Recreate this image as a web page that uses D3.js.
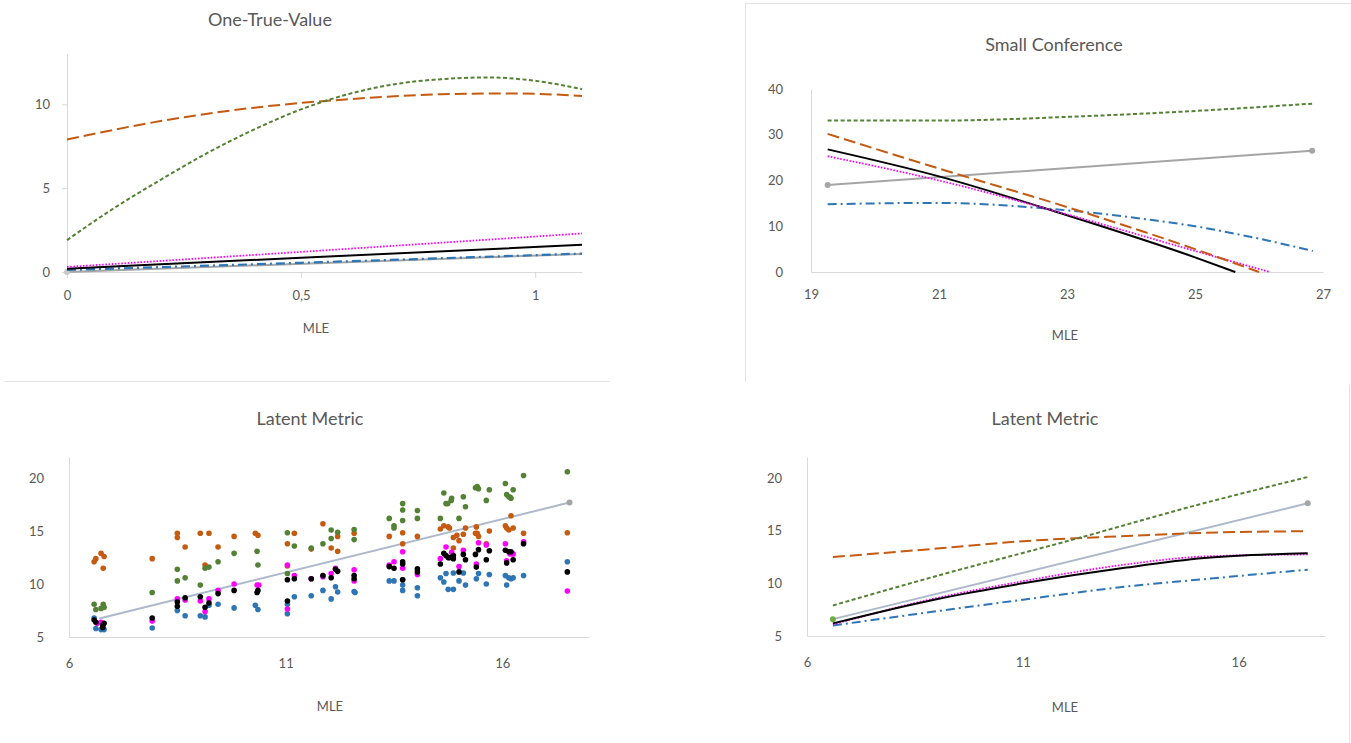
<!DOCTYPE html>
<html>
<head>
<meta charset="utf-8">
<script src="https://cdn.jsdelivr.net/npm/d3@7"></script>
<style>
body { margin: 0; background: #fff; }
svg text { font-family: Lato, "Open Sans", sans-serif; fill: #595959; }
.axis .domain { stroke: #d9d9d9; }
.axis line { stroke: #d9d9d9; }
.axis text { font-size: 13px; fill: #595959; }
</style>
</head>
<body>
<div id="chart"></div>
<script>
// ---- One-True-Value ----
const otvOrange = [[0, 7.9], [0.2, 9.0], [0.4, 9.8], [0.6, 10.3], [0.8, 10.6], [0.95, 10.65], [1.1, 10.5]];
const otvGreen = [[0, 1.9], [0.1, 3.8], [0.2, 5.5], [0.3, 7.1], [0.4, 8.5], [0.5, 9.7], [0.6, 10.6],
    [0.7, 11.2], [0.8, 11.5], [0.9, 11.6], [1.0, 11.4], [1.1, 10.9]];
const otvMagenta = [[0, 0.3], [0.5, 1.2], [1.1, 2.3]];
const otvBlack = [[0, 0.2], [0.5, 0.85], [1.1, 1.62]];
const otvBlue = [[0, 0.12], [0.5, 0.55], [1.1, 1.1]];
const otvGray = [[0, 0], [1.1, 1.08]];

// ---- Small Conference ----
const scGreen = [[19.26, 33.1], [21, 33.1], [23, 33.9], [25, 35.2], [26.83, 36.8]];
const scOrange = [[19.26, 30.2], [21, 22.6], [23, 14.2], [25, 5.0], [26.0, 0]];
const scBlack = [[19.26, 26.8], [21, 20.9], [23, 12.4], [25, 3.2], [25.63, 0]];
const scMagenta = [[19.26, 25.3], [21, 20.0], [23, 12.6], [25, 4.6], [26.17, 0]];
const scBlue = [[19.26, 14.8], [20, 15.0], [21, 15.1], [22, 14.6], [22.73, 13.8], [23.5, 12.8],
    [24.3, 11.4], [25, 10.0], [25.86, 7.7], [26.84, 4.6]];
const scGray = [[19.26, 19], [26.83, 26.5]];

// ---- Latent Metric (scatter) ----
const lmsOrange = [[6.58, 12.1], [6.62, 12.4], [6.74, 12.9], [6.81, 12.6], [6.79, 11.5], [7.92, 12.4],
    [8.5, 14.8], [8.5, 14.4], [8.68, 13.5], [9.03, 14.8], [9.14, 11.8], [9.23, 14.8], [9.44, 13.5],
    [9.81, 14.5], [10.3, 14.8], [10.36, 14.6], [11.04, 13.8], [11.04, 11.7], [11.2, 14.8], [11.59, 13.3],
    [11.86, 15.7], [12.05, 13.4], [12.2, 14.5], [12.2, 13.1], [12.58, 14.8], [13.39, 14.5], [13.7, 14.85],
    [13.7, 13.8], [14.04, 14.5], [14.57, 15.2], [14.65, 15.5], [14.75, 15.4], [14.78, 15.3], [14.87, 14.4],
    [14.87, 13.4], [14.95, 14.6], [15.0, 14.1], [15.1, 14.7], [15.15, 15.3], [15.4, 15.4], [15.38, 14.8],
    [15.42, 14.8], [15.45, 14.5], [15.7, 15.0], [15.63, 13.8], [16.2, 16.45], [16.07, 15.5], [16.1, 15.3],
    [16.15, 15.1], [16.25, 15.3], [16.49, 14.8], [17.5, 14.85]];
const lmsGreen = [[6.58, 8.1], [6.62, 7.6], [6.74, 7.7], [6.79, 8.1], [6.81, 7.8], [7.92, 9.2],
    [8.5, 11.4], [8.5, 10.3], [8.68, 10.6], [9.03, 9.9], [9.14, 11.5], [9.23, 11.6], [9.44, 12.1],
    [9.81, 12.9], [10.34, 13.1], [10.36, 11.8], [11.04, 14.85], [11.04, 11.0], [11.2, 13.6], [11.59, 13.4],
    [11.86, 13.8], [12.05, 15.1], [12.05, 14.3], [12.2, 14.9], [12.58, 15.15], [12.58, 14.2], [13.39, 16.2],
    [13.5, 15.5], [13.5, 15.3], [13.7, 17.6], [13.7, 17.0], [13.7, 16.0], [14.04, 16.95], [14.04, 16.2],
    [14.57, 16.2], [14.65, 18.6], [14.7, 17.6], [14.74, 17.6], [14.82, 17.9], [14.83, 18.1], [15.0, 16.2],
    [15.1, 18.25], [15.15, 17.3], [15.38, 19.1], [15.42, 19.2], [15.45, 19.0], [15.7, 18.9], [15.63, 17.9],
    [16.07, 19.5], [16.1, 18.45], [16.15, 18.25], [16.18, 18.2], [16.2, 18.1], [16.25, 18.9],
    [16.49, 20.25], [17.5, 20.6]];
const lmsMagenta = [[6.65, 6.3], [6.74, 6.4], [7.92, 6.5], [8.5, 8.6], [8.68, 8.5], [9.03, 8.4],
    [9.14, 7.4], [9.23, 8.6], [9.44, 9.4], [9.81, 10.0], [10.34, 9.9], [10.38, 9.9], [11.04, 11.8],
    [11.04, 7.65], [11.2, 10.8], [11.59, 10.5], [11.86, 10.7], [12.05, 11.0], [12.15, 11.5], [12.58, 11.35],
    [12.58, 10.3], [13.39, 11.8], [13.5, 12.1], [13.7, 13.05], [13.7, 11.5], [14.04, 10.9], [14.57, 12.4],
    [14.7, 13.5], [14.83, 13.0], [15.0, 11.65], [15.1, 13.2], [15.45, 13.9], [15.63, 13.7], [15.4, 11.9],
    [16.07, 13.8], [16.18, 12.85], [16.25, 12.85], [16.1, 12.2], [16.49, 14.0], [17.5, 9.35]];
const lmsBlack = [[6.58, 6.6], [6.62, 6.4], [6.78, 6.1], [6.81, 6.3], [6.78, 5.9], [7.92, 6.8],
    [8.5, 8.3], [8.5, 7.9], [8.68, 8.7], [9.03, 8.8], [9.14, 7.8], [9.23, 8.2], [9.44, 9.1], [9.81, 9.4],
    [10.36, 9.4], [10.34, 9.2], [11.04, 10.4], [11.04, 8.4], [11.2, 10.5], [11.59, 10.5], [11.86, 10.8],
    [12.05, 10.6], [12.15, 11.4], [12.2, 11.2], [12.58, 10.8], [12.58, 10.5], [13.39, 11.65], [13.5, 11.5],
    [13.7, 12.1], [13.7, 11.9], [13.7, 10.4], [14.04, 11.45], [14.04, 11.15], [14.57, 11.9], [14.65, 12.9],
    [14.7, 12.7], [14.75, 12.5], [14.78, 12.5], [14.87, 12.7], [14.87, 12.4], [15.0, 11.15], [15.1, 12.8],
    [15.15, 12.3], [15.38, 12.8], [15.45, 13.25], [15.4, 11.6], [15.7, 13.15], [15.63, 12.3], [16.07, 13.2],
    [16.15, 13.05], [16.2, 13.05], [16.1, 12.0], [16.25, 12.3], [16.49, 13.8], [17.5, 11.15]];
const lmsBlue = [[6.58, 6.8], [6.62, 5.8], [6.74, 5.7], [6.81, 5.7], [7.92, 5.85], [8.5, 7.5],
    [8.68, 7.0], [9.03, 7.0], [9.14, 6.9], [9.23, 8.0], [9.44, 8.1], [9.81, 7.75], [10.3, 8.0],
    [10.36, 7.6], [11.04, 7.2], [11.04, 8.1], [11.2, 8.8], [11.59, 8.9], [11.86, 9.4], [12.05, 8.6],
    [12.15, 9.75], [12.2, 9.25], [12.58, 9.3], [12.6, 9.2], [13.39, 10.3], [13.5, 10.3], [13.7, 10.4],
    [13.7, 9.9], [13.7, 9.4], [14.04, 9.65], [14.04, 8.9], [14.57, 10.6], [14.65, 10.2], [14.7, 11.0],
    [14.75, 9.5], [14.87, 9.5], [14.87, 11.05], [15.0, 10.3], [15.1, 11.05], [15.15, 9.9], [15.4, 10.5],
    [15.45, 11.0], [15.63, 10.0], [15.7, 10.9], [16.07, 10.8], [16.1, 9.9], [16.15, 10.6], [16.2, 10.5],
    [16.25, 10.6], [16.49, 10.8], [17.5, 12.1]];
const lmsGray = [[6.7, 6.75], [17.55, 17.7]];

// ---- Latent Metric (lines) ----
const lmGreen = [[6.6, 7.9], [9, 10.7], [12.2, 14.2], [15, 17.4], [17.6, 20.1]];
const lmOrange = [[6.6, 12.5], [9, 13.3], [11, 14.0], [13.4, 14.5], [15.2, 14.8], [17.6, 14.95]];
const lmMagenta = [[6.6, 6.1], [9, 8.6], [11, 10.2], [13.4, 11.8], [15.2, 12.55], [17.6, 12.75]];
const lmBlack = [[6.6, 6.2], [9, 8.5], [11, 10.0], [13.4, 11.5], [15.2, 12.4], [17.6, 12.85]];
const lmBlue = [[6.6, 6.0], [9, 7.35], [11, 8.45], [13.4, 9.7], [15.2, 10.4], [17.6, 11.3]];
const lmGray = [[6.6, 6.6], [17.6, 17.6]];

const titles = ['One-True-Value', 'Small Conference', 'Latent Metric', 'Latent Metric'];
const xTitle = 'MLE';

const colors = {orange: '#c55a11', green: '#548235', magenta: '#ff00ff', black: '#000000',
    blue: '#2e75b6', gray: '#a5a5a5', grayBlue: '#adb9ca'};
const dashes = {orange: '12,5', green: '4,2.5', magenta: '1.6,1.6', blue: '9,4,2,4'};

const svg = d3.select('#chart')
    .append('svg')
    .attr('width', 1351)
    .attr('height', 743);

// faint frame lines of the pasted chart boxes
const frame = svg.append('g').attr('stroke', '#e3e3e3').attr('stroke-width', 1);
frame.append('line').attr('x1', 5).attr('x2', 610).attr('y1', 381.5).attr('y2', 381.5);
frame.append('line').attr('x1', 745.5).attr('x2', 745.5).attr('y1', 3).attr('y2', 382);
frame.append('line').attr('x1', 745).attr('x2', 1351).attr('y1', 3.5).attr('y2', 3.5);
frame.append('line').attr('x1', 1349.5).attr('x2', 1349.5).attr('y1', 385).attr('y2', 743);

function panel(cfg) {
    const g = svg.append('g');
    const x = d3.scaleLinear().domain(cfg.xDomain).range([cfg.left, cfg.right]);
    const y = d3.scaleLinear().domain(cfg.yDomain).range([cfg.bottom, cfg.top]);

    const yAxis = d3.axisLeft(y)
        .tickValues(cfg.yTicks)
        .tickSizeInner(cfg.yTick)
        .tickSizeOuter(0)
        .tickPadding(cfg.yPad - cfg.yTick);
    g.append('g')
        .attr('class', 'axis')
        .attr('transform', 'translate(' + cfg.left + ',0)')
        .call(yAxis);

    const xAxis = d3.axisBottom(x)
        .tickValues(cfg.xTicks)
        .tickFormat(cfg.xFormat || d3.format('d'))
        .tickSizeInner(cfg.xTick)
        .tickSizeOuter(0)
        .tickPadding(cfg.xPad - cfg.xTick);
    g.append('g')
        .attr('class', 'axis')
        .attr('transform', 'translate(0,' + cfg.bottom + ')')
        .call(xAxis);

    g.append('text')
        .attr('x', cfg.titleX)
        .attr('y', cfg.titleY)
        .attr('text-anchor', 'middle')
        .attr('font-size', 18)
        .text(cfg.title);

    g.append('text')
        .attr('x', cfg.labelX)
        .attr('y', cfg.labelY)
        .attr('text-anchor', 'middle')
        .attr('font-size', 13)
        .text(xTitle);

    return {g, x, y};
}

function drawLine(p, data, color, dash, width) {
    const line = d3.line()
        .x(d => p.x(d[0]))
        .y(d => p.y(d[1]))
        .curve(d3.curveMonotoneX);
    p.g.append('path')
        .datum(data)
        .attr('fill', 'none')
        .attr('stroke', color)
        .attr('stroke-width', width || 2)
        .attr('stroke-dasharray', dash)
        .attr('d', line);
}

function drawDots(p, data, color, r) {
    p.g.append('g')
        .selectAll('circle')
        .data(data)
        .join('circle')
        .attr('cx', d => p.x(d[0]))
        .attr('cy', d => p.y(d[1]))
        .attr('r', r)
        .attr('fill', color);
}

// panel 1
const p1 = panel({
    xDomain: [0, 1.1], yDomain: [0, 13], left: 67, right: 582, top: 54, bottom: 272,
    xTicks: [0, 0.5, 1], yTicks: [0, 5, 10], xFormat: d => String(d).replace('.', ','),
    xTick: 6, yTick: 5, xPad: 19, yPad: 17,
    title: titles[0], titleX: 270, titleY: 26, labelX: 316, labelY: 333
});
drawLine(p1, otvGray, colors.gray, null, 2);
drawDots(p1, otvGray.slice(0, 1), '#c8c8c8', 3);
drawLine(p1, otvBlue, colors.blue, dashes.blue, 2.2);
drawLine(p1, otvBlack, colors.black, null, 2);
drawLine(p1, otvMagenta, colors.magenta, dashes.magenta, 1.8);
drawLine(p1, otvOrange, colors.orange, dashes.orange, 2);
drawLine(p1, otvGreen, colors.green, dashes.green, 2);

// panel 2
const p2 = panel({
    xDomain: [19, 27], yDomain: [0, 40], left: 811, right: 1323, top: 89, bottom: 272,
    xTicks: [19, 21, 23, 25, 27], yTicks: [0, 10, 20, 30, 40],
    xTick: 0, yTick: 0, xPad: 18, yPad: 28,
    title: titles[1], titleX: 1054, titleY: 51, labelX: 1065, labelY: 340
});
drawLine(p2, scGray, colors.gray, null, 2);
drawDots(p2, scGray, colors.gray, 3);
drawLine(p2, scBlue, colors.blue, dashes.blue, 2);
drawLine(p2, scBlack, colors.black, null, 2);
drawLine(p2, scMagenta, colors.magenta, dashes.magenta, 1.8);
drawLine(p2, scOrange, colors.orange, dashes.orange, 2);
drawLine(p2, scGreen, colors.green, dashes.green, 2);

// panel 3
const p3 = panel({
    xDomain: [6, 18], yDomain: [5, 22], left: 69, right: 589, top: 457, bottom: 637,
    xTicks: [6, 11, 16], yTicks: [5, 10, 15, 20],
    xTick: 0, yTick: 0, xPad: 22, yPad: 25,
    title: titles[2], titleX: 310, titleY: 425, labelX: 330, labelY: 711
});
drawLine(p3, lmsGray, colors.grayBlue, null, 2);
drawDots(p3, lmsGray.slice(1), colors.gray, 3);
drawDots(p3, lmsOrange, colors.orange, 2.8);
drawDots(p3, lmsGreen, colors.green, 2.8);
drawDots(p3, lmsBlue, colors.blue, 2.8);
drawDots(p3, lmsMagenta, colors.magenta, 2.8);
drawDots(p3, lmsBlack, colors.black, 2.8);

// panel 4
const p4 = panel({
    xDomain: [6, 18], yDomain: [5, 22], left: 807, right: 1325, top: 457, bottom: 636,
    xTicks: [6, 11, 16], yTicks: [5, 10, 15, 20],
    xTick: 0, yTick: 0, xPad: 22, yPad: 25,
    title: titles[3], titleX: 1045, titleY: 425, labelX: 1065, labelY: 712
});
drawLine(p4, lmGray, colors.grayBlue, null, 2);
drawDots(p4, lmGray.slice(1), colors.gray, 3);
drawDots(p4, lmGray.slice(0, 1), '#70ad47', 3);
drawLine(p4, lmBlue, colors.blue, dashes.blue, 2);
drawLine(p4, lmMagenta, colors.magenta, dashes.magenta, 1.8);
drawLine(p4, lmBlack, colors.black, null, 2);
drawLine(p4, lmOrange, colors.orange, dashes.orange, 2);
drawLine(p4, lmGreen, colors.green, dashes.green, 2);
</script>
</body>
</html>
